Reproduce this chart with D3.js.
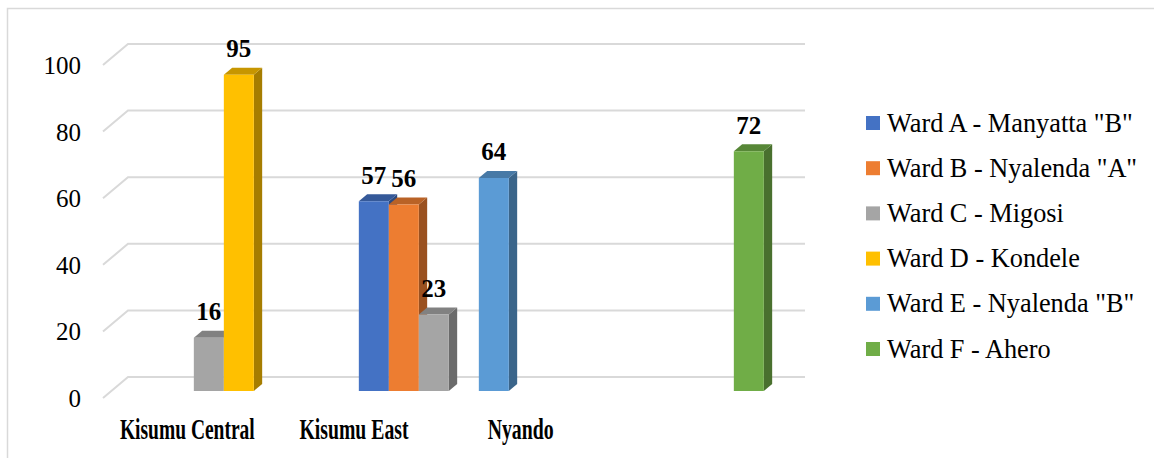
<!DOCTYPE html>
<html>
<head>
<meta charset="utf-8">
<script src="https://cdn.jsdelivr.net/npm/d3@7"></script>
<style>
  html, body { margin: 0; padding: 0; background: #fff; }
  svg { display: block; }
  text { font-family: "Liberation Serif", "Times New Roman", serif; fill: #000; }
</style>
</head>
<body>
<svg id="chart" width="1154" height="458"></svg>
<script>
// Sub-counties on the x axis
const categories = ["Kisumu Central", "Kisumu East", "Nyando"];
// Wards (one series each)
const series = [
  'Ward A - Manyatta "B"',
  'Ward B - Nyalenda "A"',
  "Ward C - Migosi",
  "Ward D - Kondele",
  'Ward E - Nyalenda "B"',
  "Ward F - Ahero"
];
const seriesColors = ["#4472C4", "#ED7D31", "#A5A5A5", "#FFC000", "#5B9BD5", "#70AD47"];
// Values per ward, indexed by sub-county (null = no bar)
const wardA = [null, 57, null];
const wardB = [null, 56, null];
const wardC = [16, 23, null];
const wardD = [95, null, null];
const wardE = [null, 64, null];
const wardF = [null, null, 72];
const seriesValues = [wardA, wardB, wardC, wardD, wardE, wardF];
const yTicks = [0, 20, 40, 60, 80, 100];

const svg = d3.select("#chart");

// Chart frame
svg.append("path")
  .attr("d", "M7.5,458 L7.5,8.5 L1154,8.5")
  .attr("fill", "none").attr("stroke", "#d9d9d9").attr("stroke-width", 1.5);

// 3-D projection: back wall plane plus a depth offset toward the viewer
const wallLeft = 128, wallRight = 805;
const depthDx = -25, depthDy = 21;
const y = d3.scaleLinear().domain([0, 100]).range([377, 44]);
const proj = (x, v, d) => [x + depthDx * d, y(v) + depthDy * d];

const x0 = d3.scaleBand().domain(categories).range([128, 803]).paddingInner(0.2).paddingOuter(0.1);
const x1 = d3.scaleBand().domain(series).range([0, x0.bandwidth()]);

// Gridlines on the back wall and the left side wall
const grid = svg.append("g");
yTicks.forEach(t => {
  const a = proj(wallLeft, t, 1), b = proj(wallLeft, t, 0), c = proj(wallRight, t, 0);
  grid.append("path")
    .attr("d", `M${a[0]},${a[1]} L${b[0]},${b[1]} L${c[0]},${c[1]}`)
    .attr("fill", "none").attr("stroke", "#d9d9d9").attr("stroke-width", 2);
});

// Y axis tick labels, placed at the front edge of the side wall
svg.append("g").selectAll("text").data(yTicks).join("text")
  .attr("x", 81)
  .attr("y", t => proj(wallLeft, t, 1)[1] + 9)
  .attr("text-anchor", "end")
  .attr("font-size", 25)
  .text(t => t);

// Bars: boxes occupying the middle third of the floor depth
const dFront = 2 / 3, dBack = 1 / 3;
const bars = [];
categories.forEach((cat, ci) => {
  series.forEach((s, si) => {
    const v = seriesValues[si][ci];
    if (v == null) return;
    bars.push({ cat, s, si, v, xb: x0(cat) + x1(s), w: x1.bandwidth() });
  });
});
bars.sort((a, b) => a.xb - b.xb);

const shade = (c, k) => {
  const col = d3.rgb(c);
  return d3.rgb(col.r * k, col.g * k, col.b * k).formatHex();
};
const poly = pts => "M" + pts.map(p => p.join(",")).join("L") + "Z";

const barG = svg.append("g");
bars.forEach(b => {
  const g = barG.append("g");
  const col = seriesColors[b.si];
  const fTL = proj(b.xb, b.v, dFront), fTR = proj(b.xb + b.w, b.v, dFront);
  const fBR = proj(b.xb + b.w, 0, dFront), fBL = proj(b.xb, 0, dFront);
  const bTL = proj(b.xb, b.v, dBack), bTR = proj(b.xb + b.w, b.v, dBack);
  const bBR = proj(b.xb + b.w, 0, dBack);
  // right side face
  g.append("path").attr("d", poly([fTR, bTR, bBR, fBR])).attr("fill", shade(col, 0.65));
  // top face
  g.append("path").attr("d", poly([fTL, bTL, bTR, fTR])).attr("fill", shade(col, 0.78));
  // front face
  g.append("path").attr("d", poly([fTL, fTR, fBR, fBL])).attr("fill", col);
});

// Value labels above each bar
svg.append("g").selectAll("text").data(bars).join("text")
  .attr("x", b => proj(b.xb + b.w / 2, b.v, dFront)[0])
  .attr("y", b => proj(b.xb, b.v, dFront)[1] - 17.5)
  .attr("text-anchor", "middle")
  .attr("font-size", 25)
  .attr("font-weight", "bold")
  .text(b => b.v);

// Category labels along the floor, condensed horizontally to fit their slots
const xLabel = d3.scaleBand().domain(categories).range([104, 604]);
const labelWidths = [135, 109, 66];
svg.append("g").selectAll("text").data(categories).join("text")
  .attr("font-size", 28.5)
  .attr("font-weight", "bold")
  .attr("text-anchor", "middle")
  .text(c => c)
  .attr("transform", function (c, i) {
    const natural = this.getComputedTextLength() || labelWidths[i];
    const cx = xLabel(c) + xLabel.bandwidth() / 2;
    return `translate(${cx},438.5) scale(${labelWidths[i] / natural},1)`;
  });

// Legend
const legend = svg.append("g");
series.forEach((s, i) => {
  const cy = 123 + i * 45.2;
  legend.append("rect")
    .attr("x", 866).attr("y", cy - 7).attr("width", 14).attr("height", 14)
    .attr("fill", seriesColors[i]);
  legend.append("text")
    .attr("x", 887).attr("y", cy + 8.5)
    .attr("font-size", 26.3)
    .text(s);
});
</script>
</body>
</html>
